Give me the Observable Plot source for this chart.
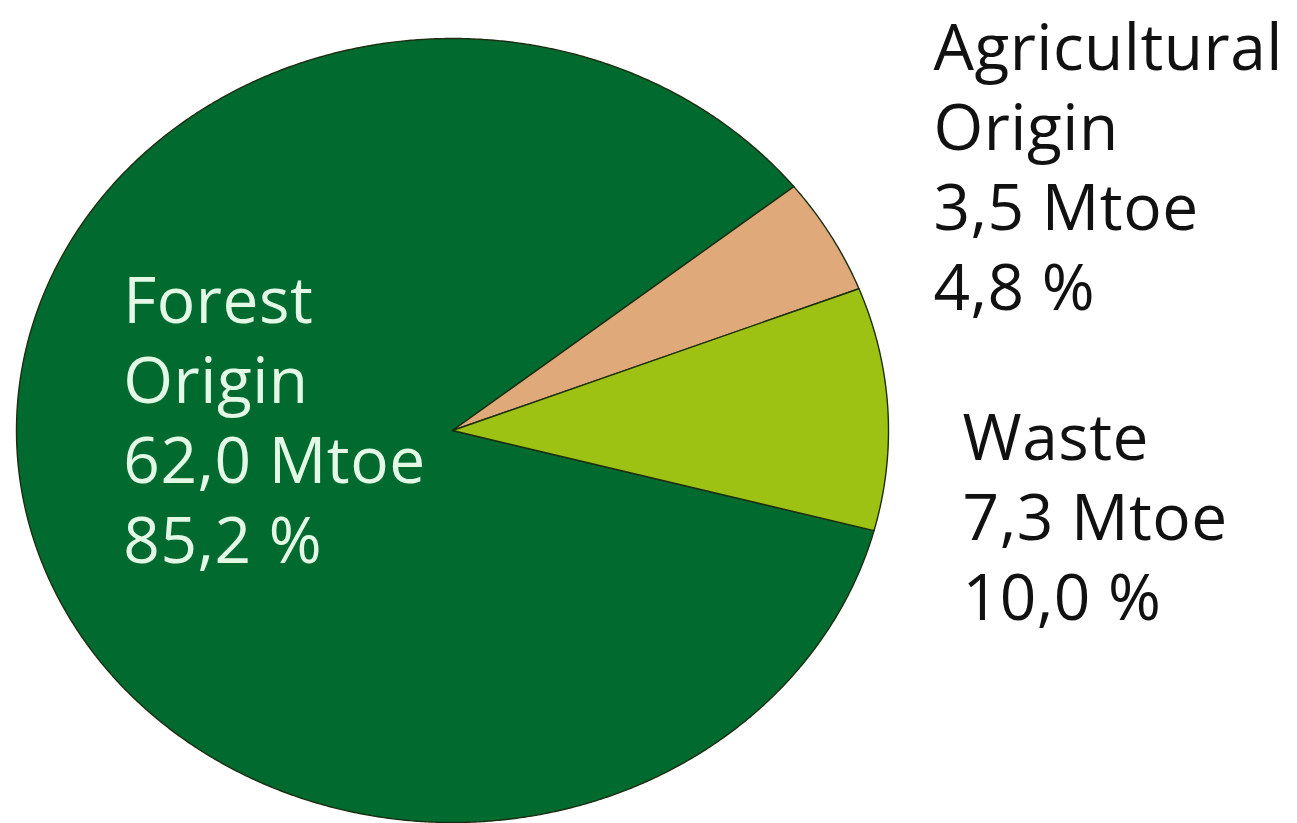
<!DOCTYPE html>
<html>
<head>
<meta charset="utf-8">
<script src="https://cdn.jsdelivr.net/npm/d3@7"></script>
<script src="https://cdn.jsdelivr.net/npm/@observablehq/plot@0.6"></script>
<style>
  html, body { margin: 0; padding: 0; background: #ffffff; }
  #chart svg { display: block; }
</style>
</head>
<body>
<div id="chart"></div>
<script>
// ---- data ----
const categories = ["Forest Origin", "Agricultural Origin", "Waste"];
const mtoe = [62.0, 3.5, 7.3];
const shares = [85.2, 4.8, 10.0];
const colors = ["#006a2f", "#dfa97a", "#9dc214"];
const labelLines = [
  ["Forest", "Origin", "62,0 Mtoe", "85,2 %"],
  ["Agricultural", "Origin", "3,5 Mtoe", "4,8 %"],
  ["Waste", "7,3 Mtoe", "10,0 %"]
];

// ---- layout (not data) ----
const startAngleDeg = 104.8; // clockwise from 12 o'clock, where Forest begins
const labelAnchors = [
  {x: -0.755, y: 0.418, fill: "#e4f8e6"},
  {x: 1.103, y: 1.064, fill: "#111111"},
  {x: 1.170, y: 0.069, fill: "#111111"}
];

// ---- build slices from data ----
const table = categories.map((c, i) => ({name: c, mtoe: mtoe[i], share: shares[i]}));
const start = startAngleDeg * Math.PI / 180;
const arcs = d3.pie().sort(null).value(d => d.share)
  .startAngle(start).endAngle(start + 2 * Math.PI)(table);

const points = [];
arcs.forEach(a => {
  points.push({name: a.data.name, x: 0, y: 0});
  const n = Math.max(8, Math.ceil((a.endAngle - a.startAngle) / 0.005));
  for (let k = 0; k <= n; k++) {
    const t = a.startAngle + (a.endAngle - a.startAngle) * k / n;
    points.push({name: a.data.name, x: Math.sin(t), y: Math.cos(t)});
  }
});

const labels = table.map((d, i) => ({
  text: labelLines[i].join("\n"),
  x: labelAnchors[i].x, y: labelAnchors[i].y, fill: labelAnchors[i].fill
}));

const chart = Plot.plot({
  width: 1297,
  height: 823,
  margin: 0,
  x: {domain: [-1, 1], range: [16, 888], axis: null},
  y: {domain: [-1, 1], range: [822, 38], axis: null},
  color: {domain: categories, range: colors},
  style: {background: "#ffffff"},
  marks: [
    Plot.line(points, {
      x: "x", y: "y", z: "name", fill: "name",
      stroke: "#1c2e12", strokeWidth: 1.4, strokeLinejoin: "round",
      curve: "linear-closed"
    }),
    Plot.text(labels, {
      x: "x", y: "y", text: "text", fill: d => d.fill,
      textAnchor: "start", lineAnchor: "top", lineHeight: 1.25,
      fontSize: 64, fontFamily: "Open Sans"
    })
  ]
});
chart.querySelectorAll("text").forEach(t => t.setAttribute("letter-spacing", "0.5"));
document.getElementById("chart").appendChild(chart);
</script>
</body>
</html>
